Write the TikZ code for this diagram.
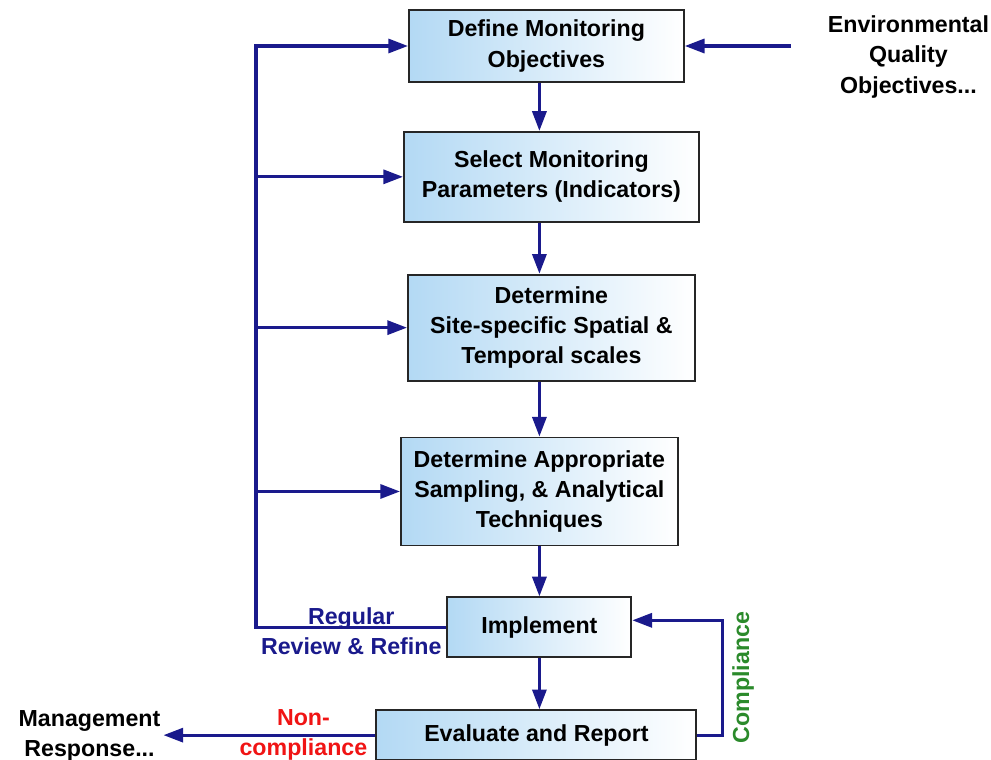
\documentclass[tikz,border=0pt]{standalone}
\usepackage{fontspec}
\setmainfont{Liberation Sans}
\usepackage{xcolor}
\usetikzlibrary{arrows.meta, positioning, calc}
\definecolor{flownavy}{HTML}{1A1A8C}
\definecolor{boxblue}{HTML}{B3D9F4}
\definecolor{noncomp}{HTML}{F01414}
\definecolor{compgreen}{HTML}{2B8A2B}

\begin{document}
\begin{tikzpicture}[
    node distance=1.25cm,
    block/.style={rectangle, draw=black!85, line width=1.3pt, left color=boxblue, right color=white, align=center, inner sep=0pt, font=\fontsize{16.5}{21.5}\selectfont\bfseries},
    textnode/.style={align=center, inner sep=2pt, font=\fontsize{16.5}{21.5}\selectfont\bfseries},
    arrow/.style={-{Triangle[length=14pt, width=10pt]}, line width=2.2pt, flownavy},
]
    \useasboundingbox (0,0) rectangle (24.775,-19);

    % Main blocks
    \node[block, minimum width=6.875cm, minimum height=1.8cm] (define) at (13.66,-1.15) {Define Monitoring\\Objectives};
    \node[block, minimum width=7.375cm, minimum height=2.25cm, below=1.2cm of define, xshift=0.125cm] (select) {Select Monitoring\\Parameters (Indicators)};
    \node[block, minimum width=7.175cm, minimum height=2.65cm, below=1.275cm of select] (scales) {Determine\\Site-specific Spatial \&\\Temporal scales};
    \node[block, minimum width=6.925cm, minimum height=2.7cm, below=1.375cm of scales, xshift=-0.3cm] (sampling) {Determine Appropriate\\Sampling, \& Analytical\\Techniques};
    \node[block, minimum width=4.6cm, minimum height=1.5cm, below=1.25cm of sampling] (implement) {Implement};
    \node[block, minimum width=8cm, minimum height=1.25cm, below=1.275cm of implement, xshift=-0.075cm] (evaluate) {Evaluate and Report};

    % Outside texts
    \node[textnode, right=3.5cm of define.east, yshift=-0.275cm] (env) {Environmental\\Quality\\Objectives...};
    \node[textnode, left=5.3cm of evaluate.west, yshift=-0.02cm] (mgmt) {Management\\Response...};
    \coordinate[left=3.8cm of define.west] (spine);

    % Main flow
    \draw[arrow] (define.south -| implement.south) -- (select.north -| implement.south);
    \draw[arrow] (select.south -| implement.south) -- (scales.north -| implement.south);
    \draw[arrow] (scales.south -| implement.south) -- (sampling.north -| implement.south);
    \draw[arrow] (sampling.south -| implement.south) -- (implement.north);
    \draw[arrow] (implement.south) -- (evaluate.north -| implement.south);
    \draw[arrow] ([xshift=-0.85cm]env.west |- define.east) -- (define.east);

    % Review loop
    \draw[arrow] (implement.west) -- node[textnode, midway, flownavy, yshift=-0.1cm] {Regular\\Review \& Refine} (implement.west -| spine) -- (spine) -- (define.west);
    \draw[arrow] (spine |- select.west) -- (select.west);
    \draw[arrow] (spine |- scales.west) -- (scales.west);
    \draw[arrow] (spine |- sampling.west) -- (sampling.west);

    % Outcomes
    \draw[arrow] (evaluate.east) -- ++(0.625,0) |- node[textnode, pos=0.25, rotate=90, anchor=north, inner sep=6pt, compgreen] {Compliance} ([yshift=0.175cm]implement.east);
    \draw[arrow] (evaluate.west) -- node[textnode, pos=0.34, noncomp] {Non-\\compliance} (evaluate.west -| mgmt.east);
\end{tikzpicture}
\end{document}
